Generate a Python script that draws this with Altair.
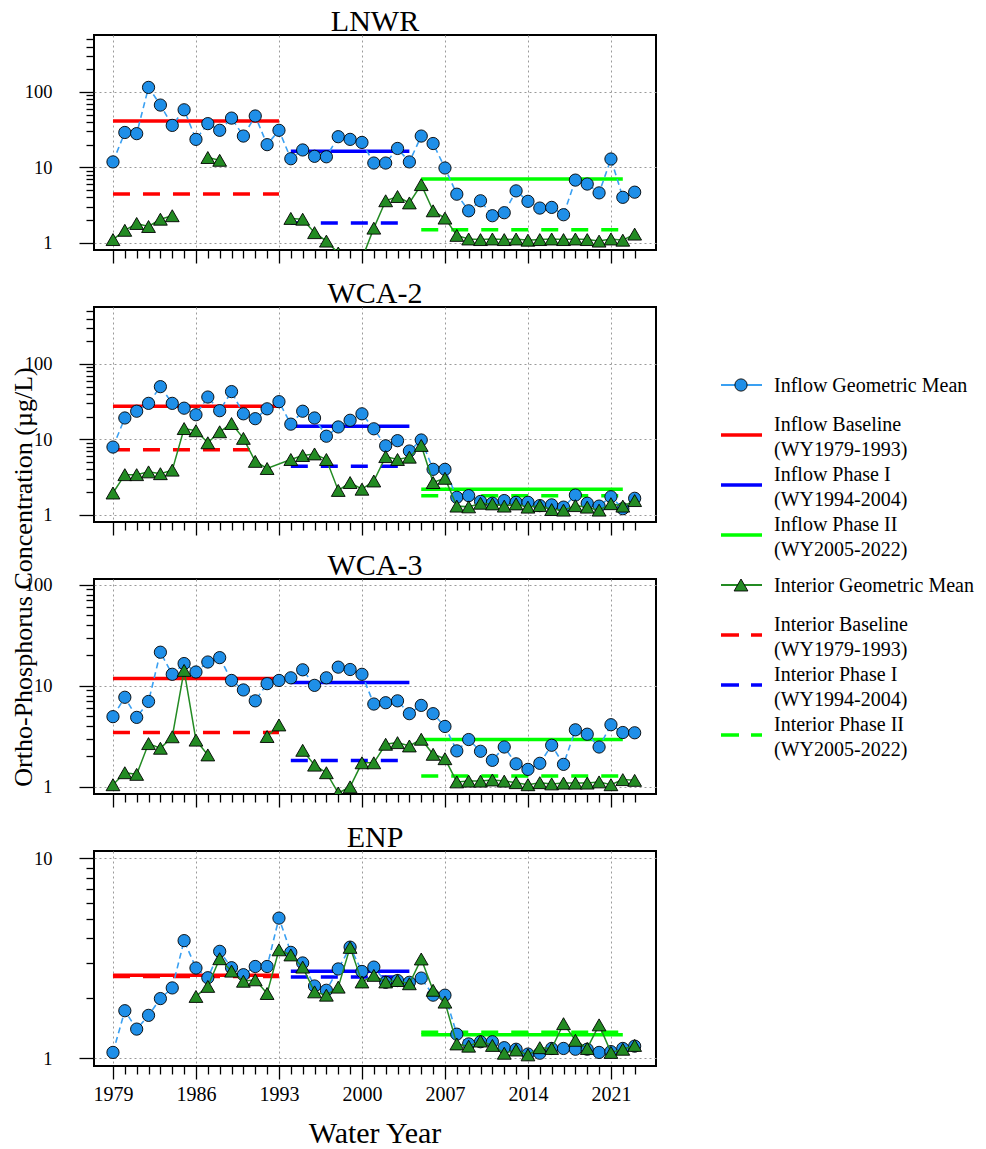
import altair as alt
import pandas as pd

YEARS = list(range(1979, 2024))
PHASE_START = [1979, 1994, 2005]
PHASE_END = [1993, 2004, 2022]
PHASE_COLORS = ["#ff0000", "#0000ff", "#00ff00"]

# ---------------- LNWR ----------------
LNWR_INFLOW = [11.8, 29, 28, 115, 67, 36, 58, 23.5, 38, 31, 45, 26, 48, 20, 31,
               13, 17, 14, 13.8, 25.5, 23.5, 21.4, 11.4, 11.4, 17.8, 11.8,
               26, 20.7, 9.8, 4.4, 2.65, 3.6, 2.28, 2.5, 4.87, 3.54, 2.88, 2.94, 2.35,
               6.77, 6.0, 4.58, 12.9, 4.0, 4.68]
LNWR_INTERIOR = [1.1, 1.46, 1.8, 1.64, 2.05, 2.28, None, None, 13.5, 12.4,
                 None, None, None, None, None,
                 2.1, 2.05, 1.36, 1.05, 0.73, 0.6, 0.61, 1.56, 3.6,
                 4.1, 3.37, 5.9, 2.65, 2.12, 1.25, 1.12, 1.1, 1.12, 1.1, 1.12, 1.08,
                 1.1, 1.12, 1.1, 1.12, 1.1, 1.05, 1.12, 1.08, 1.3]
LNWR_INFLOW_BASE = [41.3, 16.4, 7.0]
LNWR_INTERIOR_BASE = [4.44, 1.82, 1.48]
LNWR_INTERIOR_END = [1993, 2004, 2022]

# ---------------- WCA-2 ----------------
WCA2_INFLOW = [7.9, 19.2, 23.6, 30, 50, 30, 25.9, 21.2, 36.4, 24, 43, 21.8, 18.8, 25.4, 31.6,
               15.9, 23.6, 19.2, 11.0, 14.6, 17.9, 21.8, 13.8,
               8.2, 9.6, 7.0, 9.8, 4.0, 4.0, 1.7, 1.79, 1.5, 1.42, 1.54, 1.46, 1.46,
               1.32, 1.35, 1.26, 1.82, 1.42, 1.3, 1.73, 1.2, 1.65]
WCA2_INTERIOR = [1.94, 3.4, 3.4, 3.7, 3.5, 3.9, 13.9, 13, 9.0, 12.6, 16.2, 10.3, 5.1, 4.1,
                 None,
                 5.4, 6.1, 6.4, 5.4, 2.1, 2.67, 2.18, 2.8,
                 5.9, 5.4, 5.8, 8.3, 2.67, 3.04, 1.3, 1.27, 1.42, 1.39, 1.3, 1.39, 1.26,
                 1.32, 1.17, 1.15, 1.32, 1.26, 1.15, 1.4, 1.3, 1.54]
WCA2_CONNECT = [1993]
WCA2_INFLOW_BASE = [27.5, 14.9, 2.18]
WCA2_INTERIOR_BASE = [7.3, 4.4, 1.79]
WCA2_INTERIOR_END = [1991, 2004, 2022]

# ---------------- WCA-3 ----------------
WCA3_INFLOW = [4.95, 7.7, 4.87, 7.0, 21.5, 13, 16.6, 13.7, 17.2, 19, 11.3, 9.1, 7.1, 10.5, 11.3,
               12, 14.4, 10.1, 12, 15.3, 14.5, 13, 6.6, 6.8,
               7.1, 5.3, 6.4, 5.3, 3.96, 2.27, 2.94, 2.25, 1.83, 2.48, 1.69, 1.49, 1.71,
               2.58, 1.67, 3.67, 3.32, 2.48, 4.12, 3.45, 3.43]
WCA3_INTERIOR = [1.05, 1.38, 1.33, 2.68, 2.41, 3.13, 14.2, 2.9, 2.07,
                 None, None, None, None,
                 3.15, 4.1, None,
                 2.3, 1.64, 1.38, 0.87, 1.0, 1.73, 1.73, 2.64,
                 2.74, 2.54, 2.96, 2.1, 1.9, 1.12, 1.14, 1.14, 1.17, 1.14, 1.1, 1.05,
                 1.1, 1.07, 1.09, 1.09, 1.09, 1.12, 1.05, 1.18, 1.16]
WCA3_INFLOW_BASE = [11.8, 10.8, 2.95]
WCA3_INTERIOR_BASE = [3.45, 1.82, 1.28]
WCA3_INTERIOR_END = [1993, 2004, 2022]

# ---------------- ENP ----------------
ENP_INFLOW = [1.07, 1.73, 1.40, 1.64, 1.99, 2.25, 3.88, 2.83, 2.53, 3.43, 2.84, 2.62, 2.88, 2.88, 5.03,
              3.39, 3.0, 2.3, 2.19, 2.8, 3.6, 2.72, 2.86, 2.4,
              2.45, 2.4, 2.52, 2.07, 2.07, 1.32, 1.18, 1.21, 1.21, 1.13, 1.11, 1.05,
              1.06, 1.12, 1.12, 1.11, 1.11, 1.07, 1.08, 1.12, 1.15]
ENP_INTERIOR = [None, None, None, None, None, None, None,
                2.04, 2.29, 3.15, 2.73, 2.43, 2.47, 2.11, 3.49, 3.29, 2.86, 2.15, 2.07, 2.27,
                3.59, 2.41, 2.6, 2.41,
                2.45, 2.36, 3.14, 2.19, 1.91, 1.18, 1.15, 1.22, 1.16, 1.06, 1.1, 1.04,
                1.13, 1.12, 1.49, 1.23, 1.12, 1.47, 1.07, 1.11, 1.16]
ENP_INFLOW_BASE = [2.6, 2.73, 1.31]
ENP_INTERIOR_BASE = [2.57, 2.55, 1.35]
ENP_INTERIOR_END = [1993, 2004, 2022]

TICKS_3DEC = [1, 2, 3, 4, 5, 6, 7, 8, 9, 10, 20, 30, 40, 50, 60, 70, 80, 90,
              100, 200, 300, 400, 500]
TICKS_2DEC = [1, 2, 3, 4, 5, 6, 7, 8, 9, 10, 20, 30, 40, 50, 60, 70, 80, 90, 100]
TICKS_1DEC = [1, 2, 3, 4, 5, 6, 7, 8, 9, 10]

Y_TITLE = "Ortho-Phosphorus Concentration (µg/L)"
X_TITLE = "Water Year"
LEGEND_LINE1 = ["Inflow Geometric Mean", "Inflow Baseline", "Inflow Phase I", "Inflow Phase II",
                "Interior Geometric Mean", "Interior Baseline", "Interior Phase I", "Interior Phase II"]
LEGEND_LINE2 = ["", "(WY1979-1993)", "(WY1994-2004)", "(WY2005-2022)",
                "", "(WY1979-1993)", "(WY1994-2004)", "(WY2005-2022)"]

FONT = "Liberation Serif"
INFLOW_COLOR = "#1f8fe8"
INFLOW_LINE = "#3aa0f2"
INTERIOR_COLOR = "#238b23"
PW, PH = 562, 215
XDOM = [1977.4, 2024.8]
MAJOR_X = "(datum.value - 1979) % 7 == 0"
MAJOR_Y = "indexof([1, 10, 100], datum.value) >= 0"


def segments(values, connect=()):
    seg, out = 0, []
    for yr, v in zip(YEARS, values):
        if v is None and yr not in connect:
            seg += 1
        out.append(seg)
    return out


def text_layer(label, x, y, size, angle=0, baseline="alphabetic"):
    kw = dict(fontSize=size, font=FONT, align="center", baseline=baseline, color="black")
    if angle:
        kw["angle"] = angle
    return alt.Chart(pd.DataFrame({"label": [label]})).mark_text(**kw).encode(
        x=alt.value(x), y=alt.value(y), text="label:N")


def legend_layer():
    leg = pd.DataFrame({
        "idx": list(range(8)),
        "line1": LEGEND_LINE1,
        "line2": LEGEND_LINE2,
        "color": [INFLOW_LINE, "#ff0000", "#0000ff", "#00ff00",
                  INTERIOR_COLOR, "#ff0000", "#0000ff", "#00ff00"],
        "dashed": [False, False, False, False, False, True, True, True],
        "two": [l2 != "" for l2 in LEGEND_LINE2],
    })
    # 50 px per legend row; first row 350 px below the top of the LNWR frame
    ly = alt.Y("idx:Q", scale=alt.Scale(domain=[-7, -7 + PH / 50.0], reverse=True, nice=False,
                                        zero=False), axis=None)
    X0, X1, XM, TX = 627, 668, 647, 680
    base = alt.Chart(leg)
    solid = base.transform_filter("!datum.dashed && datum.two").mark_rule(strokeWidth=3.5).encode(
        x=alt.value(X0), x2=alt.value(X1), y=ly, color=alt.Color("color:N", scale=None))
    thin = base.transform_filter("!datum.two").mark_rule(strokeWidth=2.2).encode(
        x=alt.value(X0), x2=alt.value(X1), y=ly, color=alt.Color("color:N", scale=None))
    dash = base.transform_filter("datum.dashed").mark_rule(strokeWidth=3.5, strokeDash=[18, 12]).encode(
        x=alt.value(X0), x2=alt.value(X1), y=ly, color=alt.Color("color:N", scale=None))
    circ = base.transform_filter("datum.idx == 0").mark_point(
        shape="circle", filled=True, fill=INFLOW_COLOR, stroke="black", strokeWidth=0.9,
        size=150, opacity=1).encode(x=alt.value(XM), y=ly)
    tri = base.transform_filter("datum.idx == 4").mark_point(
        shape="triangle-up", filled=True, fill=INTERIOR_COLOR, stroke="black", strokeWidth=0.9,
        size=190, opacity=1).encode(x=alt.value(XM), y=ly)
    t_single = base.transform_filter("!datum.two").mark_text(
        align="left", baseline="middle", fontSize=20, font=FONT, dy=1).encode(
        x=alt.value(TX), y=ly, text="line1:N")
    t_first = base.transform_filter("datum.two").mark_text(
        align="left", baseline="middle", fontSize=20, font=FONT, dy=-10).encode(
        x=alt.value(TX), y=ly, text="line1:N")
    t_second = base.transform_filter("datum.two").mark_text(
        align="left", baseline="middle", fontSize=20, font=FONT, dy=15).encode(
        x=alt.value(TX), y=ly, text="line2:N")
    return alt.layer(solid, thin, dash, circ, tri, t_single, t_first, t_second)


def panel(name, inflow, interior, in_base, int_base, int_end, ydom, yticks,
          bottom=False, ytitle=False, connect=(), with_legend=False):
    df_in = pd.DataFrame({"year": YEARS, "value": inflow})
    df_int = pd.DataFrame({"year": YEARS, "value": interior, "seg": segments(interior, connect)})
    df_int = df_int.dropna()
    base_in = pd.DataFrame({"year": PHASE_START, "year2": PHASE_END, "value": in_base,
                            "color": PHASE_COLORS})
    base_int = pd.DataFrame({"year": PHASE_START, "year2": int_end, "value": int_base,
                             "color": PHASE_COLORS})

    xaxis = alt.Axis(
        values=YEARS, labels=bottom, labelExpr="(datum.value - 1979) % 7 == 0 ? datum.value : ''",
        labelOverlap=False, labelFlush=False, labelFontSize=20, labelPadding=5,
        tickSize={"condition": {"test": MAJOR_X, "value": 13}, "value": 8},
        gridOpacity={"condition": {"test": MAJOR_X, "value": 1}, "value": 0},
        title="",
    )
    yaxis = alt.Axis(
        values=yticks, labelExpr="indexof([1, 10, 100], datum.value) >= 0 ? datum.value : ''",
        labelOverlap=False, labelFlush=False, labelFontSize=18.5, labelPadding=27,
        tickSize={"condition": {"test": MAJOR_Y, "value": 15}, "value": 8},
        gridOpacity={"condition": {"test": MAJOR_Y, "value": 1}, "value": 0},
        title="",
    )

    x = alt.X("year:Q", scale=alt.Scale(domain=XDOM, nice=False, zero=False), axis=xaxis)
    y = alt.Y("value:Q", scale=alt.Scale(type="log", domain=ydom, nice=False), axis=yaxis)

    l_base_in = alt.Chart(base_in).mark_rule(strokeWidth=3.5, clip=True).encode(
        x=x, x2="year2:Q", y=y, color=alt.Color("color:N", scale=None))
    l_base_int = alt.Chart(base_int).mark_rule(strokeWidth=3.5, strokeDash=[17, 13], clip=True).encode(
        x=x, x2="year2:Q", y=y, color=alt.Color("color:N", scale=None))
    l_in_line = alt.Chart(df_in).mark_line(color=INFLOW_LINE, strokeWidth=1.6,
                                           strokeDash=[6, 4], clip=True).encode(x=x, y=y)
    l_in_pts = alt.Chart(df_in).mark_point(shape="circle", filled=True, fill=INFLOW_COLOR,
                                           stroke="black", strokeWidth=0.9, size=150,
                                           opacity=1, clip=True).encode(x=x, y=y)
    l_int_line = alt.Chart(df_int).mark_line(color=INTERIOR_COLOR, strokeWidth=1.5,
                                             clip=True).encode(x=x, y=y, detail="seg:N")
    l_int_pts = alt.Chart(df_int).mark_point(shape="triangle-up", filled=True, fill=INTERIOR_COLOR,
                                             stroke="black", strokeWidth=0.9, size=190,
                                             opacity=1, clip=True).encode(x=x, y=y)
    layers = [l_base_in, l_base_int, l_in_line, l_in_pts, l_int_line, l_int_pts,
              text_layer(name, PW / 2, -4, 30)]
    if ytitle:
        layers.append(text_layer(Y_TITLE, -70, -2, 26, angle=270, baseline="middle"))
    if bottom:
        layers.append(text_layer(X_TITLE, PW / 2, PH + 77, 30))
    data_layer = alt.layer(*layers)
    if with_legend:
        out = alt.layer(data_layer, legend_layer()).resolve_scale(y="independent")
    else:
        out = data_layer
    return out.properties(width=PW, height=PH)


p1 = panel("LNWR", LNWR_INFLOW, LNWR_INTERIOR, LNWR_INFLOW_BASE, LNWR_INTERIOR_BASE,
           LNWR_INTERIOR_END, [0.8, 570], TICKS_3DEC, with_legend=True)
p2 = panel("WCA-2", WCA2_INFLOW, WCA2_INTERIOR, WCA2_INFLOW_BASE, WCA2_INTERIOR_BASE,
           WCA2_INTERIOR_END, [0.8, 570], TICKS_3DEC, connect=WCA2_CONNECT)
p3 = panel("WCA-3", WCA3_INFLOW, WCA3_INTERIOR, WCA3_INFLOW_BASE, WCA3_INTERIOR_BASE,
           WCA3_INTERIOR_END, [0.85, 114], TICKS_2DEC, ytitle=True)
p4 = panel("ENP", ENP_INFLOW, ENP_INTERIOR, ENP_INFLOW_BASE, ENP_INTERIOR_BASE,
           ENP_INTERIOR_END, [0.915, 10.9], TICKS_1DEC, bottom=True)

chart = alt.vconcat(p1, p2, p3, p4, spacing=57, bounds="flush").properties(
    padding={"left": 1, "top": -2, "right": 0, "bottom": 0}
).configure_view(stroke="black", strokeWidth=2).configure_axis(
    domain=False, tickColor="black", tickWidth=1.3, labelColor="black", titleColor="black",
    labelFont=FONT, titleFont=FONT, titleFontWeight="normal",
    gridColor="#9a9a9a", gridDash=[2, 3], gridWidth=1,
)

chart.save("out.html", embed_options={"renderer": "svg", "actions": False})
